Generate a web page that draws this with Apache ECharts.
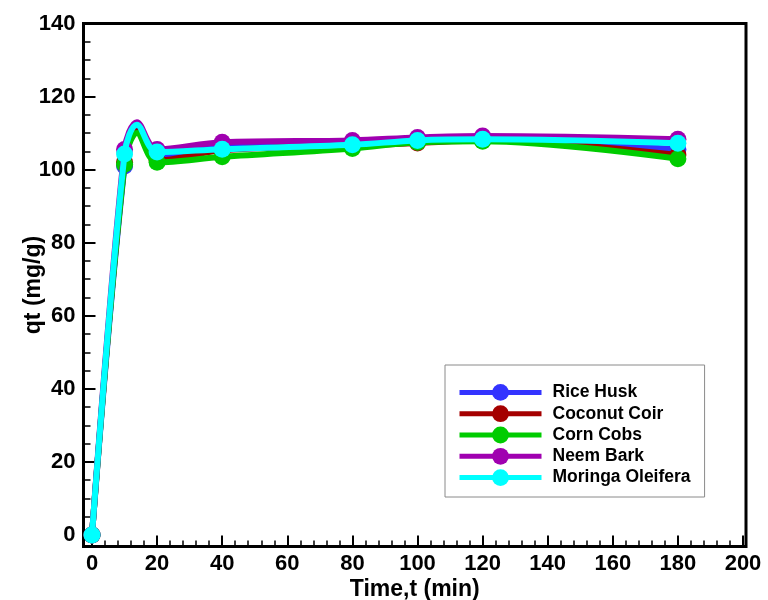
<!DOCTYPE html>
<html>
<head>
<meta charset="utf-8">
<script src="https://cdn.jsdelivr.net/npm/echarts@6/dist/echarts.min.js"></script>
<style>
html,body{margin:0;padding:0;background:#fff;}
#chart{width:768px;height:600px;}
</style>
</head>
<body>
<div id="chart"></div>
<script>
// Sampling times (min)
const times = [0, 10, 20, 40, 80, 100, 120, 180];
// Apex of the drawn curve just after t=10 (no marker)
const apexTime = 13.8;

const seriesNames = ['Rice Husk', 'Coconut Coir', 'Corn Cobs', 'Neem Bark', 'Moringa Oleifera'];
const riceHusk   = [0, 101.0, 103.5, 106.3, 107.0, 108.0, 108.3, 105.5];
const coconutCoir= [0, 102.0, 102.5, 105.3, 106.5, 107.3, 108.0, 104.0];
const cornCobs   = [0, 101.5, 102.0, 103.5, 105.8, 107.5, 107.8, 103.0];
const neemBark   = [0, 105.5, 105.5, 107.5, 108.0, 108.8, 109.2, 108.3];
const moringa    = [0, 104.3, 104.8, 105.6, 106.8, 108.0, 108.3, 107.2];
const apexValues = [111.5, 110.5, 110.0, 113.0, 112.3];

const colors = ['#3333FF', '#A50000', '#00CC00', '#A000B0', '#00FFFF'];

// Axis ticks
const xMajorTicks = [0, 20, 40, 60, 80, 100, 120, 140, 160, 180, 200];
const yMajorTicks = [0, 20, 40, 60, 80, 100, 120, 140];
const xMinorPerMajor = 5;
const yMinorPerMajor = 4;
const xRange = [-2.61, 200.92];
const yRange = [-3.15, 140];

function minorTicks(majors, n) {
  const out = [];
  for (let i = 0; i < majors.length - 1; i++) {
    const step = (majors[i + 1] - majors[i]) / n;
    for (let k = 1; k < n; k++) out.push(majors[i] + k * step);
  }
  return out;
}
const xMinorTicks = minorTicks(xMajorTicks, xMinorPerMajor);
const yMinorTicks = minorTicks(yMajorTicks, yMinorPerMajor);

const allValues = [riceHusk, coconutCoir, cornCobs, neemBark, moringa];

const FONT = '"Liberation Sans", Arial, sans-serif';

function buildData(vals, apex) {
  const d = [];
  for (let i = 0; i < times.length; i++) {
    d.push([times[i], vals[i]]);
    if (times[i] === 10) {
      d.push({ value: [apexTime, apex], symbol: 'none' });
    }
  }
  return d;
}

const series = seriesNames.map((name, i) => ({
  name: name,
  type: 'line',
  xAxisIndex: 0,
  yAxisIndex: 0,
  data: buildData(allValues[i], apexValues[i]),
  smooth: 0.35,
  symbol: 'circle',
  symbolSize: 17,
  showSymbol: true,
  lineStyle: { width: 6, color: colors[i] },
  itemStyle: { color: colors[i] },
  emphasis: { disabled: true },
  animation: false,
  z: 2 + i
}));

const labelStyle = { fontFamily: FONT, fontWeight: 'bold', fontSize: 22, color: '#000' };

const chart = echarts.init(document.getElementById('chart'), null, { renderer: 'canvas' });
chart.setOption({
  animation: false,
  backgroundColor: '#ffffff',
  grid: {
    left: 83.5, right: 22, top: 23.5, bottom: 53.5,
    containLabel: false, outerBoundsMode: 'none',
    show: true, borderColor: '#000', borderWidth: 3, backgroundColor: 'transparent'
  },
  legend: {
    orient: 'vertical',
    left: 445,
    top: 365,
    padding: [18.4, 14, 10.4, 12],
    borderColor: '#8a8a8a',
    borderWidth: 1,
    backgroundColor: '#fff',
    itemWidth: 82,
    itemHeight: 21,
    itemGap: 3.3,
    lineStyle: { width: 5 },
    textStyle: { fontFamily: FONT, fontWeight: 'bold', fontSize: 17.5, color: '#000', padding: [0, 0, 0, 6] },
    data: seriesNames
  },
  xAxis: [
    {
      type: 'value', min: xRange[0], max: xRange[1], position: 'bottom',
      name: 'Time,t (min)', nameLocation: 'middle', nameGap: 32, nameMoveOverlap: false,
      nameTextStyle: Object.assign({}, labelStyle, { fontSize: 23 }),
      axisLine: { show: false, onZero: false },
      axisTick: { show: true, inside: true, length: 11, customValues: xMajorTicks, lineStyle: { color: '#000', width: 2 } },
      axisLabel: Object.assign({ margin: 6, customValues: xMajorTicks }, labelStyle),
      splitLine: { show: false }
    },
    {
      type: 'value', min: xRange[0], max: xRange[1], position: 'bottom',
      axisLine: { show: false, onZero: false },
      axisTick: { show: true, inside: true, length: 6, customValues: xMinorTicks, lineStyle: { color: '#000', width: 1.5 } },
      axisLabel: { show: false },
      splitLine: { show: false }
    }
  ],
  yAxis: [
    {
      type: 'value', min: yRange[0], max: yRange[1], position: 'left',
      name: 'qt (mg/g)', nameLocation: 'middle', nameGap: 38, nameRotate: 90, nameMoveOverlap: false,
      nameTextStyle: Object.assign({}, labelStyle, { fontSize: 23 }),
      axisLine: { show: false, onZero: false },
      axisTick: { show: true, inside: true, length: 12, customValues: yMajorTicks, lineStyle: { color: '#000', width: 2 } },
      axisLabel: Object.assign({ margin: 8, customValues: yMajorTicks }, labelStyle),
      splitLine: { show: false }
    },
    {
      type: 'value', min: yRange[0], max: yRange[1], position: 'left',
      axisLine: { show: false, onZero: false },
      axisTick: { show: true, inside: true, length: 7, customValues: yMinorTicks, lineStyle: { color: '#000', width: 1.5 } },
      axisLabel: { show: false },
      splitLine: { show: false }
    }
  ],
  series: series
});
</script>
</body>
</html>
